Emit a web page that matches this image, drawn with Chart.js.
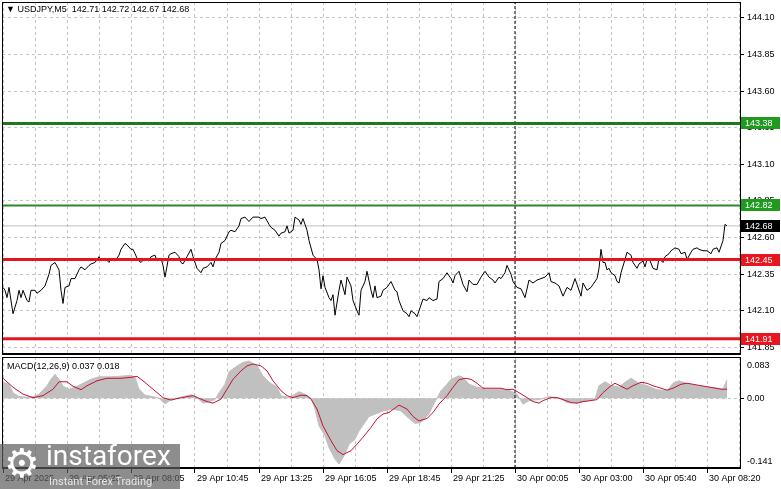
<!DOCTYPE html>
<html lang="en">
<head>
<meta charset="UTF-8">
<title>USDJPY M5</title>
<script src="https://cdn.jsdelivr.net/npm/chart.js"></script>
<style>
  html, body { margin: 0; padding: 0; background: #fff; }
  body { width: 781px; height: 489px; position: relative; overflow: hidden; font-family: "Liberation Sans", Arial, sans-serif; }
  .pane { position: absolute; left: 0; width: 781px; }
  #mainPane { top: 0; height: 356px; }
  #macdPane { top: 355px; height: 134px; }
  .caption { position: absolute; font-size: 9px; color: #000; white-space: pre; line-height: 1; }
  #title { left: 6px; top: 5px; }
  #macdTitle { left: 7px; top: 362px; }
  #wm { position: absolute; left: 0; top: 444px; width: 180px; height: 45px; background: rgba(92, 92, 92, 0.7); overflow: hidden; }
  #wm .gear { position: absolute; left: 4px; top: -1px; font-size: 40px; line-height: 1; color: #fff; font-family: "DejaVu Sans", sans-serif; }
  #wm .brand { position: absolute; left: 46px; top: -2px; font-size: 28px; line-height: 1; color: #fff; font-family: Roboto, sans-serif; }
  #wm .slogan { position: absolute; left: 49px; top: 32px; font-size: 11px; line-height: 1; color: #e6e6e6; font-family: Roboto, sans-serif; }
</style>
</head>
<body>

<div class="pane" id="mainPane"><canvas id="mainChart"></canvas></div>
<div class="pane" id="macdPane"><canvas id="macdChart"></canvas></div>
<div class="caption" id="title"></div>
<div class="caption" id="macdTitle"></div>
<div id="wm">
  <div class="gear">⚙</div>
  <div class="brand">instaforex</div>
  <div class="slogan">Instant Forex Trading</div>
</div>

<script>
// --- data (bar index = 5 minute bars from the left edge) ---
const symbolName = 'USDJPY,M5';
const lastBarOHLC = [142.71, 142.72, 142.67, 142.68];

const priceBar = [
  0, 1, 2, 3, 5, 7, 8, 9, 10, 12,
  13, 14, 16, 17, 19, 21, 23, 24, 26, 28,
  29, 30, 31, 33, 34, 36, 38, 39, 41, 43,
  44, 46, 48, 49, 51, 53, 54, 56, 58, 59,
  61, 62, 64, 65, 67, 68, 69, 71, 73, 74,
  76, 77, 79, 80, 81, 83, 84, 86, 88, 89,
  90, 92, 94, 95, 97, 99, 100, 102, 104, 105,
  106, 108, 109, 111, 113, 114, 116, 118, 119, 121,
  123, 125, 128, 129, 131, 133, 134, 136, 138, 139,
  141, 142, 143, 145, 146, 148, 149, 150, 152, 153,
  155, 157, 158, 159, 160, 161, 163, 164, 165, 166,
  168, 169, 171, 172, 174, 175, 177, 178, 179, 181,
  182, 184, 185, 186, 187, 189, 190, 192, 193, 194,
  196, 197, 198, 200, 202, 203, 204, 206, 207, 208,
  210, 212, 213, 215, 217, 218, 220, 222, 224, 225,
  226, 228, 230, 232, 233, 235, 237, 239, 241, 243,
  245, 246, 248, 249, 251, 252, 254, 255, 257, 259,
  261, 263, 265, 267, 269, 271, 273, 274, 276, 278,
  280, 282, 284, 286, 287, 289, 290, 292, 294, 295,
  297, 298, 299, 300, 301, 302, 303, 304, 306, 307,
  308, 309, 311, 312, 314, 315, 317, 318, 320, 321,
  322, 323, 325, 327, 328, 330, 331, 333, 334, 336,
  338, 339, 341, 342, 344, 345, 347, 348, 350, 352,
  354, 355, 357, 358, 360, 361, 362
];
const priceClose = [
  142.26, 142.24, 142.19, 142.26, 142.08, 142.17, 142.24, 142.19, 142.24, 142.17,
  142.16, 142.24, 142.24, 142.22, 142.24, 142.27, 142.35, 142.41, 142.43, 142.38,
  142.24, 142.15, 142.26, 142.27, 142.32, 142.32, 142.38, 142.40, 142.38, 142.41,
  142.42, 142.43, 142.47, 142.44, 142.46, 142.43, 142.46, 142.44, 142.48, 142.52,
  142.56, 142.55, 142.52, 142.52, 142.46, 142.44, 142.43, 142.46, 142.44, 142.47,
  142.48, 142.44, 142.46, 142.41, 142.33, 142.48, 142.49, 142.50, 142.47, 142.43,
  142.42, 142.47, 142.52, 142.47, 142.39, 142.36, 142.39, 142.40, 142.43, 142.40,
  142.45, 142.50, 142.56, 142.58, 142.64, 142.65, 142.64, 142.68, 142.73, 142.74,
  142.71, 142.74, 142.74, 142.73, 142.74, 142.69, 142.67, 142.65, 142.61, 142.63,
  142.64, 142.68, 142.63, 142.65, 142.74, 142.72, 142.69, 142.73, 142.65, 142.58,
  142.48, 142.45, 142.38, 142.25, 142.34, 142.26, 142.19, 142.17, 142.21, 142.07,
  142.24, 142.31, 142.21, 142.33, 142.27, 142.17, 142.10, 142.07, 142.24, 142.30,
  142.37, 142.24, 142.19, 142.27, 142.19, 142.20, 142.24, 142.26, 142.28, 142.30,
  142.24, 142.23, 142.17, 142.10, 142.08, 142.06, 142.10, 142.08, 142.06, 142.10,
  142.18, 142.17, 142.19, 142.17, 142.18, 142.30, 142.32, 142.36, 142.32, 142.29,
  142.34, 142.37, 142.28, 142.23, 142.31, 142.28, 142.28, 142.33, 142.37, 142.33,
  142.31, 142.29, 142.33, 142.32, 142.36, 142.41, 142.35, 142.30, 142.26, 142.25,
  142.19, 142.31, 142.29, 142.31, 142.32, 142.33, 142.36, 142.30, 142.29, 142.27,
  142.20, 142.26, 142.24, 142.32, 142.28, 142.20, 142.29, 142.24, 142.26, 142.28,
  142.32, 142.39, 142.52, 142.43, 142.43, 142.38, 142.39, 142.36, 142.34, 142.30,
  142.29, 142.36, 142.45, 142.50, 142.48, 142.43, 142.39, 142.42, 142.44, 142.40,
  142.45, 142.46, 142.39, 142.38, 142.46, 142.43, 142.47, 142.49, 142.51, 142.53,
  142.52, 142.49, 142.50, 142.45, 142.50, 142.52, 142.53, 142.52, 142.51, 142.51,
  142.49, 142.52, 142.53, 142.50, 142.58, 142.69, 142.68
];

// support / resistance levels drawn on the chart
const levelPrices = [143.38, 142.82, 142.45, 141.91];

// MACD(12,26,9)
const macdParams = [12, 26, 9];
const histBar = [
  0, 3, 5, 8, 12, 15, 18, 22, 24, 26,
  28, 30, 33, 37, 40, 44, 48, 54, 58, 64,
  66, 68, 71, 75, 78, 81, 84, 88, 94, 97,
  100, 103, 106, 108, 111, 113, 117, 120, 123, 127,
  130, 133, 137, 139, 143, 148, 151, 154, 156, 158,
  161, 163, 166, 168, 171, 173, 176, 178, 181, 183,
  185, 190, 195, 199, 203, 206, 209, 213, 215, 217,
  219, 222, 224, 228, 230, 233, 237, 242, 248, 253,
  257, 260, 263, 268, 273, 278, 282, 287, 292, 296,
  298, 301, 304, 308, 311, 314, 318, 322, 327, 332,
  335, 338, 343, 348, 353, 358, 360, 362
];
const histValue = [
  0.032, 0.028, 0.011, 0.003, 0.002, 0.003, 0.008, 0.025, 0.038, 0.048,
  0.038, 0.024, 0.018, 0.024, 0.030, 0.038, 0.043, 0.043, 0.044, 0.046,
  0.042, 0.018, 0.006, 0.003, 0.000, -0.012, -0.003, 0.001, 0.007, 0.001,
  -0.010, -0.007, -0.003, 0.011, 0.028, 0.053, 0.065, 0.072, 0.075, 0.065,
  0.045, 0.032, 0.022, 0.005, 0.001, 0.013, 0.008, 0.000, -0.022, -0.056,
  -0.076, -0.100, -0.123, -0.133, -0.113, -0.093, -0.083, -0.066, -0.049, -0.037,
  -0.034, -0.026, -0.022, -0.026, -0.041, -0.051, -0.049, -0.032, -0.015, 0.000,
  0.015, 0.028, 0.038, 0.045, 0.042, 0.028, 0.022, 0.018, 0.018, 0.016,
  0.008, -0.012, -0.005, -0.003, 0.003, 0.001, -0.009, -0.010, -0.005, -0.002,
  0.025, 0.033, 0.026, 0.022, 0.032, 0.040, 0.030, 0.025, 0.017, 0.015,
  0.030, 0.035, 0.028, 0.024, 0.022, 0.020, 0.018, 0.037
];
const signalBar = [
  0, 5, 10, 15, 20, 25, 28, 32, 35, 39,
  42, 47, 52, 59, 64, 67, 70, 75, 80, 84,
  87, 92, 95, 99, 102, 105, 109, 112, 115, 119,
  122, 125, 129, 132, 135, 139, 142, 145, 149, 152,
  154, 157, 160, 164, 167, 170, 174, 177, 180, 184,
  187, 190, 193, 198, 202, 205, 208, 212, 215, 218,
  222, 225, 228, 231, 234, 237, 240, 243, 249, 252,
  255, 258, 262, 265, 268, 270, 274, 277, 280, 284,
  287, 290, 294, 297, 300, 304, 306, 309, 312, 315,
  319, 322, 325, 329, 332, 335, 339, 342, 345, 349,
  352, 355, 359, 362
];
const signalValue = [
  0.040, 0.022, 0.008, 0.001, 0.005, 0.018, 0.033, 0.033, 0.024, 0.017,
  0.025, 0.035, 0.040, 0.040, 0.042, 0.044, 0.035, 0.018, 0.001, -0.004,
  -0.001, 0.003, 0.005, -0.002, -0.007, -0.010, -0.002, 0.018, 0.038, 0.055,
  0.065, 0.069, 0.065, 0.055, 0.035, 0.015, 0.005, 0.001, 0.006, 0.005,
  -0.002, -0.022, -0.056, -0.086, -0.106, -0.114, -0.106, -0.093, -0.079, -0.059,
  -0.042, -0.032, -0.029, -0.014, -0.022, -0.037, -0.046, -0.041, -0.029, -0.012,
  0.005, 0.022, 0.037, 0.040, 0.038, 0.030, 0.020, 0.020, 0.020, 0.017,
  0.018, 0.011, 0.001, -0.007, -0.010, -0.005, 0.001, 0.001, -0.003, -0.009,
  -0.010, -0.007, -0.005, -0.003, 0.011, 0.025, 0.030, 0.024, 0.018, 0.025,
  0.032, 0.030, 0.025, 0.020, 0.016, 0.020, 0.028, 0.030, 0.028, 0.025,
  0.023, 0.021, 0.018, 0.018
];

// axes
const priceTicks = [141.85, 142.10, 142.35, 142.60, 142.85, 143.10, 143.35, 143.60, 143.85, 144.10];
const macdTicks = [0.083, 0.00, -0.141];
const macdTickText = ['0.083', '0.00', '-0.141'];
const timeTickBar = [0, 32, 64, 96, 128, 160, 192, 224, 256, 288, 320, 352];
const timeTickText = [
  '29 Apr 2025', '29 Apr 05:25', '29 Apr 08:05', '29 Apr 10:45', '29 Apr 13:25', '29 Apr 16:05',
  '29 Apr 18:45', '29 Apr 21:25', '30 Apr 00:05', '30 Apr 03:00', '30 Apr 05:40', '30 Apr 08:20'
];
const daySeparatorBar = 256;

// view range
const X_MIN = -0.5, X_MAX = 368.5;
const PRICE_MIN = 141.805, PRICE_MAX = 144.209;

// --- styles ---
const FONT = '"Liberation Sans", Arial, sans-serif';
const GRID = '#c4c4c4';
const levelLine = [
  { color: '#1c7a1c', width: 3, tag: '#1f9a1f' },
  { color: '#2a8a2a', width: 2, tag: '#1f9a1f' },
  { color: '#e3161e', width: 3, tag: '#e8161e' },
  { color: '#e3161e', width: 3, tag: '#e8161e' }
];

const lastClose = priceClose[priceClose.length - 1];
document.getElementById('title').textContent = '\u25BC ' + symbolName + '  ' + lastBarOHLC.map(v => v.toFixed(2)).join(' ');
document.getElementById('macdTitle').textContent =
  'MACD(' + macdParams.join(',') + ') ' + histValue[histValue.length - 1].toFixed(3) + ' ' + signalValue[signalValue.length - 1].toFixed(3);

const toPoints = (xs, ys) => xs.map((x, i) => ({ x: x, y: ys[i] }));
const gridBars = [];
for (let b = 0; b <= X_MAX; b += 16) gridBars.push(b);

// no extra room for the outer tick labels: the plot fills its pane like in MT4
const tightY = s => { s.width = 41; s.paddingTop = 0; s.paddingBottom = 0; };

// black frame around the plot area
const frame = {
  id: 'frame',
  afterDraw(chart) {
    const { ctx, chartArea: a } = chart;
    ctx.save();
    ctx.strokeStyle = '#000';
    ctx.lineWidth = 1;
    ctx.strokeRect(Math.round(a.left) + 0.5, Math.round(a.top) + 0.5,
      Math.round(a.right - a.left), Math.round(a.bottom - a.top) - 1);
    ctx.restore();
  }
};

// coloured price tags on the right axis
const levelTags = {
  id: 'levelTags',
  afterDraw(chart) {
    const { ctx, chartArea: a, scales: { y } } = chart;
    const tags = levelPrices.map((p, i) => ({ p: p, bg: levelLine[i].tag }));
    tags.push({ p: lastClose, bg: '#000' });
    ctx.save();
    ctx.font = '9px ' + FONT;
    ctx.textBaseline = 'middle';
    ctx.textAlign = 'left';
    tags.forEach(t => {
      const py = Math.round(y.getPixelForValue(t.p));
      ctx.fillStyle = t.bg;
      ctx.fillRect(a.right + 1, py - 6, 39, 12);
      ctx.fillStyle = '#fff';
      ctx.fillText(t.p.toFixed(2), a.right + 5, py + 0.5);
    });
    ctx.restore();
  }
};

// MT4-style min / zero / max labels of the indicator window
const macdLabels = {
  id: 'macdLabels',
  afterDraw(chart) {
    const { ctx, chartArea: a, scales: { y } } = chart;
    ctx.save();
    ctx.font = '9px ' + FONT;
    ctx.fillStyle = '#000';
    ctx.textAlign = 'left';
    macdTicks.forEach((v, i) => {
      let py = y.getPixelForValue(v);
      ctx.textBaseline = 'middle';
      if (i === 0) { ctx.textBaseline = 'top'; py = a.top + 4; }
      if (i === macdTicks.length - 1) { ctx.textBaseline = 'bottom'; py = a.bottom - 2; }
      ctx.fillText(macdTickText[i], a.right + 7, py);
    });
    ctx.restore();
  }
};

const mainChart = new Chart(document.getElementById('mainChart'), {
  type: 'line',
  data: {
    datasets: [
      ...levelPrices.map((p, i) => ({
        data: [{ x: X_MIN, y: p }, { x: X_MAX, y: p }],
        borderColor: levelLine[i].color,
        borderWidth: levelLine[i].width,
        order: 0
      })),
      {
        data: [{ x: daySeparatorBar, y: PRICE_MIN }, { x: daySeparatorBar, y: PRICE_MAX }],
        borderColor: '#000', borderWidth: 1, borderDash: [3, 2], order: 1
      },
      {
        data: toPoints(priceBar, priceClose),
        borderColor: '#000', borderWidth: 1, order: 2
      },
      {
        data: [{ x: X_MIN, y: lastClose }, { x: X_MAX, y: lastClose }],
        borderColor: '#bdbdbd', borderWidth: 1, order: 3
      }
    ]
  },
  options: {
    animation: false,
    responsive: true,
    maintainAspectRatio: false,
    devicePixelRatio: 1,
    layout: { padding: { left: 2, top: 2, bottom: 2, right: 0 } },
    elements: { point: { radius: 0 }, line: { tension: 0 } },
    plugins: { legend: { display: false }, tooltip: { enabled: false } },
    scales: {
      x: {
        type: 'linear', min: X_MIN, max: X_MAX,
        afterBuildTicks: s => { s.ticks = gridBars.map(v => ({ value: v })); },
        afterFit: s => { s.height = 0; },
        ticks: { display: false },
        grid: { color: GRID, drawTicks: false },
        border: { display: true, color: '#000', dash: [3, 3] }
      },
      y: {
        position: 'right', min: PRICE_MIN, max: PRICE_MAX,
        afterBuildTicks: s => { s.ticks = priceTicks.map(v => ({ value: v })); },
        afterFit: tightY,
        ticks: { font: { family: FONT, size: 9 }, color: '#000', padding: 3, autoSkip: false,
                 callback: v => v.toFixed(2) },
        grid: { color: GRID, tickColor: '#000', tickLength: 4, tickBorderDash: [] },
        border: { color: '#000', dash: [3, 3] }
      }
    }
  },
  plugins: [frame, levelTags]
});

const macdChart = new Chart(document.getElementById('macdChart'), {
  type: 'line',
  data: {
    datasets: [
      {
        data: toPoints(signalBar, signalValue),
        borderColor: '#c8102e', borderWidth: 1, order: 0
      },
      {
        data: [{ x: daySeparatorBar, y: macdTicks[2] }, { x: daySeparatorBar, y: macdTicks[0] }],
        borderColor: '#000', borderWidth: 1, borderDash: [3, 2], order: 1
      },
      {
        data: toPoints(histBar, histValue),
        borderColor: '#c0c0c0', borderWidth: 1,
        backgroundColor: '#c0c0c0', fill: 'origin', order: 2
      }
    ]
  },
  options: {
    animation: false,
    responsive: true,
    maintainAspectRatio: false,
    devicePixelRatio: 1,
    layout: { padding: { left: 2, top: 2, bottom: 0, right: 0 } },
    elements: { point: { radius: 0 }, line: { tension: 0 } },
    plugins: { legend: { display: false }, tooltip: { enabled: false } },
    scales: {
      x: {
        type: 'linear', min: X_MIN, max: X_MAX,
        afterBuildTicks: s => { s.ticks = gridBars.map(v => ({ value: v })); },
        afterFit: s => { s.height = 21; },
        ticks: {
          font: { family: FONT, size: 9 }, color: '#000', autoSkip: false, maxRotation: 0,
          align: 'start', labelOffset: 2, padding: 0,
          callback: v => { const k = timeTickBar.indexOf(v); return k < 0 ? '' : timeTickText[k]; }
        },
        grid: {
          color: GRID, tickLength: 5, tickBorderDash: [],
          tickColor: c => (c.tick && timeTickBar.indexOf(c.tick.value) >= 0) ? '#000' : 'rgba(0,0,0,0)'
        },
        border: { display: true, color: '#000', dash: [3, 3] }
      },
      y: {
        position: 'right', min: macdTicks[2], max: macdTicks[0],
        afterBuildTicks: s => { s.ticks = [{ value: 0 }]; },
        afterFit: tightY,
        ticks: { display: false },
        grid: { color: GRID, tickColor: '#000', tickLength: 4, tickBorderDash: [] },
        border: { color: '#000', dash: [3, 3] }
      }
    }
  },
  plugins: [frame, macdLabels]
});
</script>
</body>
</html>
